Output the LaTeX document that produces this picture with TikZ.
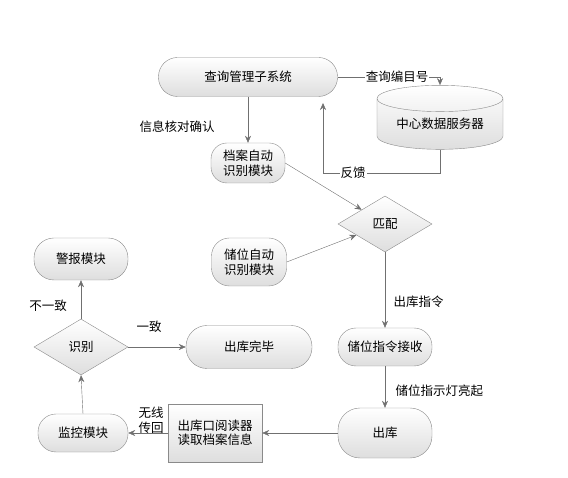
\documentclass[tikz,border=0pt]{standalone}
\usepackage{fontspec}
\setmainfont{Noto Sans CJK SC}
\usetikzlibrary{shapes.geometric, arrows.meta, positioning}
\definecolor{linegray}{HTML}{707070}
\definecolor{boxgray}{HTML}{8A8A8A}

\begin{document}
\begin{tikzpicture}[x=1pt, y=-1pt,
    font=\fontsize{12.5}{14.5}\selectfont,
    box/.style={draw=boxgray, top color=white, bottom color=black!13, align=center, inner sep=0pt, rounded corners=#1},
    box/.default=18pt,
    decide/.style={diamond, draw=boxgray, top color=white, bottom color=black!13, inner sep=0pt, minimum width=94pt, minimum height=56pt},
    arr/.style={draw=linegray, -{Stealth[length=7pt, width=6pt]}},
    lbl/.style={fill=white, inner sep=1pt}]
    \useasboundingbox (0,0) rectangle (568,478);

    % Top row
    \node[box=19pt, minimum width=179pt, minimum height=39pt] (sys) at (248,77) {查询管理子系统};
    \node[cylinder, shape border rotate=90, draw=boxgray, top color=white, bottom color=black!13,
          minimum width=126pt, minimum height=64pt, aspect=0.3, inner sep=0pt] (db) at (440,124) {中心数据服务器};
    \coordinate (fbturn) at (323,173);
    \coordinate (fbend) at (323,103);

    % Recognition modules
    \node[box=16pt, minimum width=74pt, minimum height=40pt] (dang) at (248,163) {档案自动\\识别模块};
    \node[box=18pt, minimum width=75pt, minimum height=48pt] (chu) at (249,262) {储位自动\\识别模块};
    \node[decide] (match) at (385,224) {匹配};

    % Right column
    \node[box=18pt, minimum width=94pt, minimum height=38pt] (recv) at (385,347) {储位指令接收};
    \node[box=22pt, minimum width=94pt, minimum height=50pt] (out) at (385,433) {出库};

    % Bottom row and left column
    \node[draw=boxgray, top color=white, bottom color=black!13, align=center, inner sep=0pt,
          minimum width=94pt, minimum height=58pt] (reader) at (215,433) {出库口阅读器\\读取档案信息};
    \node[box=18pt, minimum width=90pt, minimum height=38pt] (mon) at (83,433) {监控模块};
    \node[decide] (ident) at (81,347) {识别};
    \node[box=20pt, minimum width=94pt, minimum height=42pt] (alarm) at (81,259) {警报模块};
    \node[box=21pt, minimum width=126pt, minimum height=43pt] (done) at (249,347) {出库完毕};

    % Connectors
    \draw[arr] (sys.east) -- node[lbl, pos=0.58] {查询编目号} (sys.east -| db.north) -- (db.north);
    \draw[arr] (db.south) |- (fbturn) -- (fbend);
    \node[lbl] (fb) at (353,173) {反馈};
    \draw[arr] (sys.south) -- (dang.north);
    \draw[arr] (dang.east) -- (match);
    \draw[arr] (chu.east) -- (match);
    \draw[arr] (match.south) -- (recv.north);
    \draw[arr] (recv.south) -- (out.north);
    \draw[arr] (out.west) -- (reader.east);
    \draw[arr] (reader.west) -- (mon.east);
    \draw[arr] (mon.north) -- (ident.south);
    \draw[arr] (ident.north) -- (alarm.south);
    \draw[arr] (ident.east) -- (done.west);

    % Labels
    \node (check) at (177,127) {信息核对确认};
    \node[right] (cmd) at (390,302) {出库指令};
    \node[right] (light) at (392,391) {储位指示灯亮起};
    \node[align=center, font=\fontsize{12.5}{15}\selectfont] (wifi) at (151,420) {无线\\传回};
    \node (diff) at (48,306) {不一致};
    \node (same) at (149,327) {一致};
\end{tikzpicture}
\end{document}
